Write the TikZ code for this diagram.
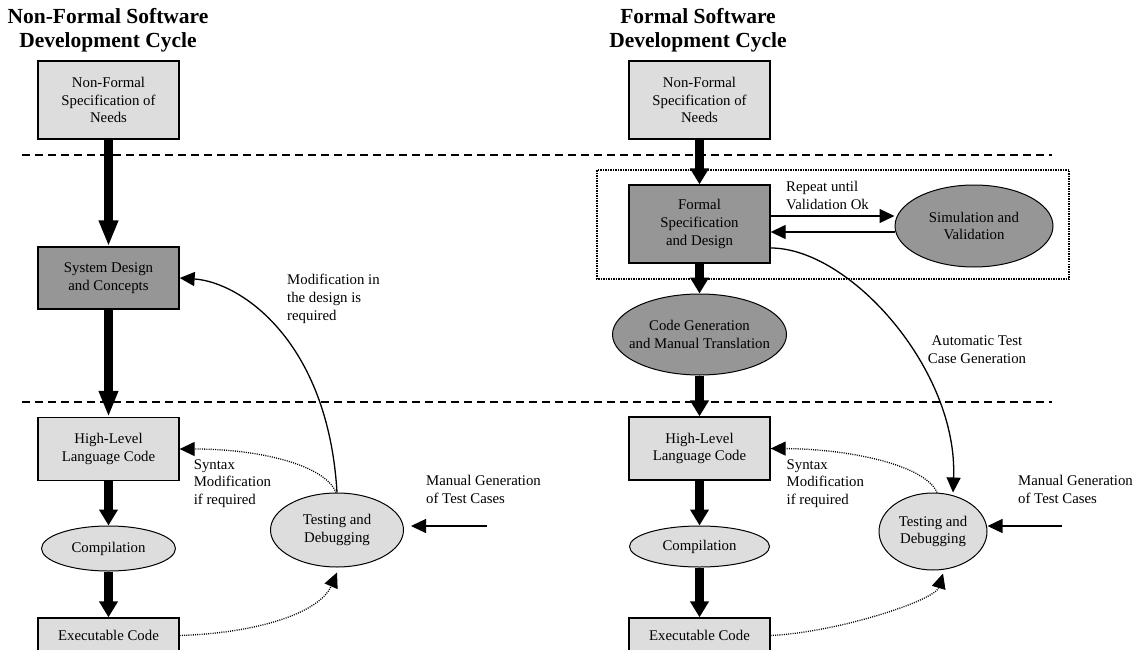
\documentclass[tikz,border=0pt]{standalone}
\usepackage{fontspec}
\setmainfont{Liberation Serif}
\usetikzlibrary{arrows.meta,positioning,shapes.geometric}
\definecolor{Light}{HTML}{DDDDDD}
\definecolor{Dark}{HTML}{969696}

\begin{document}
\begin{tikzpicture}[x=1pt,y=-1pt,
    every node/.style={font=\fontsize{14.8}{17.7}\selectfont},
    ttl/.style={font=\fontsize{21.5}{24}\selectfont\bfseries,align=center},
    box/.style={draw,line width=1.3pt,minimum width=141pt,inner sep=0pt,align=center},
    oval/.style={draw,ellipse,line width=1pt,inner sep=0pt,align=center},
    txt/.style={align=left,anchor=north west,inner sep=0pt},
    flow/.style={-{Triangle[length=16pt,width=18pt]},line width=8.5pt},
    flowlong/.style={-{Triangle[length=26pt,width=18pt]},line width=8.5pt},
    a/.style={-{Triangle[length=15pt,width=14pt]},line width=1.3pt},
    dotarrow/.style={a,dash pattern=on 1pt off 1.2pt}]
    \useasboundingbox (0,0) rectangle (1137,650);
    % level separators and formal frame
    \draw[line width=1.3pt,dash pattern=on 8pt off 5pt] (22,155) -- (1052,155);
    \draw[line width=1.3pt,dash pattern=on 8pt off 5pt] (22,402) -- (1052,402);
    \draw[line width=1.8pt,dash pattern=on 1.5pt off 1pt] (597,170) rectangle (1069,279);
    % titles
    \node[ttl] (titleL) at (108,30) {Non-Formal Software\\Development Cycle};
    \node[ttl] (titleR) at (698,30) {Formal Software\\Development Cycle};
    % non-formal cycle
    \node[box,fill=Light,minimum height=78pt] (needsL) at (108.5,100) {Non-Formal\\Specification of\\Needs};
    \node[box,fill=Dark,minimum height=62pt] (designL) at (108.5,278) {System Design\\and Concepts};
    \node[box,fill=Light,minimum height=63pt] (hllL) at (108.5,449) {High-Level\\Language Code};
    \node[oval,fill=Light,minimum width=134pt,minimum height=45pt] (compL) at (108.5,548.5) {Compilation};
    \node[box,fill=Light,minimum height=35pt] (execL) at (108.5,635.5) {Executable Code};
    \node[oval,fill=Light,minimum width=133pt,minimum height=74pt] (testL) at (337,530) {Testing and\\Debugging};
    \coordinate (manL) at (487,526);
    \node[txt] (modlbl) at (287,274) {Modification in\\the design is\\required};
    \node[txt] (synL) at (193.6,459) {Syntax\\Modification\\if required};
    \node[txt] (manlblL) at (426,475) {Manual Generation\\of Test Cases};
    % formal cycle
    \node[box,fill=Light,minimum height=78pt] (needsR) at (699.5,100) {Non-Formal\\Specification of\\Needs};
    \node[box,fill=Dark,minimum height=78pt] (formal) at (699.5,224) {Formal\\Specification\\and Design};
    \node[oval,fill=Dark,minimum width=158pt,minimum height=82pt] (sim) at (974,226) {Simulation and\\Validation};
    \node[oval,fill=Dark,minimum width=174pt,minimum height=81pt,inner xsep=-10pt] (codegen) at (699.5,334.5) {Code Generation\\and Manual Translation};
    \node[box,fill=Light,minimum height=63pt] (hllR) at (699.5,448.5) {High-Level\\Language Code};
    \node[oval,fill=Light,minimum width=140pt,minimum height=41pt] (compR) at (699.5,546.5) {Compilation};
    \node[box,fill=Light,minimum height=35pt] (execR) at (699.5,635.5) {Executable Code};
    \node[oval,fill=Light,minimum width=108pt,minimum height=77pt] (testR) at (933,531.5) {Testing and\\Debugging};
    \coordinate (manR) at (1062,526);
    \node[txt] (replbl) at (786,181) {Repeat until\\Validation Ok};
    \node[align=center] (autolbl) at (977,350) {Automatic Test\\Case Generation};
    \node[txt] (synR) at (786.5,459) {Syntax\\Modification\\if required};
    \node[txt] (manlblR) at (1018,475) {Manual Generation\\of Test Cases};
    % connectors, left
    \draw[flowlong] (needsL) -- (designL);
    \draw[flowlong] (designL) -- (hllL);
    \draw[flow] (hllL) -- (compL);
    \draw[flow] (compL) -- (execL);
    \draw[a] (testL.north) .. controls (328,340) and (240,282) .. (designL.east);
    \draw[dotarrow] ([xshift=-1pt]testL.north) .. controls (325,465) and (260,449) .. (hllL.east);
    \draw[dotarrow] (execL.east) .. controls (260,633) and (320,612) .. ([yshift=-5pt]testL.south);
    \draw[a,shorten >=7pt] (manL) -- (manL -| testL.east);
    % connectors, right
    \draw[flow] (needsR) -- (formal);
    \draw[a] ([yshift=8pt]formal.east) -- ([yshift=10pt]sim.west);
    \draw[a] ([yshift=-6pt]sim.west) -- ([yshift=-8pt]formal.east);
    \draw[flow] (formal) -- (codegen);
    \draw[flow] (codegen) -- (hllR);
    \draw[flow] (hllR) -- (compR);
    \draw[flow] (compR) -- (execR);
    \draw[a] ([yshift=-24pt]formal.east) .. controls (850,248) and (958,370) .. ([xshift=20pt]testR.north);
    \draw[dotarrow] ([xshift=4pt]testR.north) .. controls (925,465) and (850,449) .. (hllR.east);
    \draw[dotarrow] (execR.east) .. controls (840,632) and (935,600) .. ([xshift=10pt,yshift=-3pt]testR.south);
    \draw[a] (manR) -- (manR -| testR.east);
\end{tikzpicture}
\end{document}
